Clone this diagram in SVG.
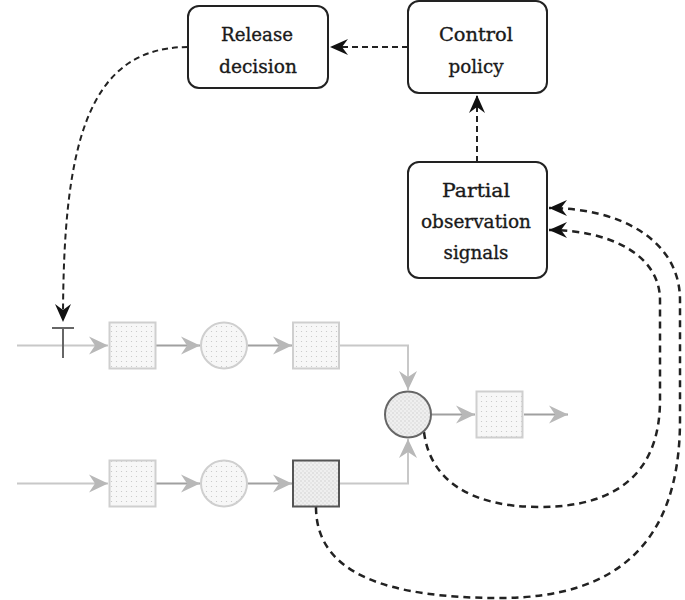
<svg xmlns="http://www.w3.org/2000/svg" width="685" height="600" viewBox="0 0 685 600">
<style>
.box{fill:#fff;stroke:#222;stroke-width:2}
.lbl{font-family:"DejaVu Serif","Liberation Serif",serif;font-size:19px;fill:#1a1a1a;stroke:#1a1a1a;stroke-width:0.35;text-anchor:middle}
.dash{fill:none;stroke:#222;stroke-width:2;stroke-dasharray:6 4}
.dashb{fill:none;stroke:#222;stroke-width:2.5;stroke-dasharray:7 5}
.gl{fill:none;stroke:#c8c8c8;stroke-width:2}
.gd{fill:none;stroke:#a0a0a0;stroke-width:2}
.sq{fill:url(#dots);stroke:#cfcfcf;stroke-width:2}
</style>
<defs>
<pattern id="dots" width="5" height="5" patternUnits="userSpaceOnUse">
<rect width="5" height="5" fill="#f7f7f7"/>
<circle cx="1.5" cy="1.5" r="0.6" fill="#c4c4c4"/>
</pattern>
<pattern id="dots2" width="4" height="4" patternUnits="userSpaceOnUse">
<rect width="4" height="4" fill="#efefef"/>
<circle cx="1" cy="1" r="0.7" fill="#c8c8c8"/>
<circle cx="3" cy="3" r="0.7" fill="#d4d4d4"/>
</pattern>
<marker id="ab" viewBox="-20 -10 21 20" refX="0" refY="0" markerWidth="21" markerHeight="20" markerUnits="userSpaceOnUse" orient="auto">
<path d="M0,0 L-18,-8 L-12,0 L-18,8 z" fill="#111"/>
</marker>
<marker id="ag" viewBox="-21 -10 22 20" refX="0" refY="0" markerWidth="22" markerHeight="20" markerUnits="userSpaceOnUse" orient="auto">
<path d="M0,0 L-19,-9 L-13,0 L-19,9 z" fill="#b8b8b8"/>
</marker>
</defs>

<g id="connectors">
<path class="dash" d="M408,47 L330,47" marker-end="url(#ab)"/>
<path class="dash" d="M477,162 L477,95" marker-end="url(#ab)"/>
<path class="dash" d="M188,47 C85,47 63,150 63,322" marker-end="url(#ab)"/>
<path class="dashb" d="M424,432 C430,480 470,507 540,507 C620,507 660,470 660,400 L660,300 C660,255 610,230 549,230" marker-end="url(#ab)"/>
<path class="dashb" d="M316,507 C316,575 390,598 500,598 C620,598 680,540 680,420 L680,300 C680,240 620,208 549,208" marker-end="url(#ab)"/>
<path class="gl" d="M17,345.5 L108,345.5" marker-end="url(#ag)"/>
<path class="gd" d="M156,345.5 L200,345.5" marker-end="url(#ag)"/>
<path class="gd" d="M248,345.5 L292,345.5" marker-end="url(#ag)"/>
<path class="gl" d="M340,345.5 L408,345.5 L408,390" marker-end="url(#ag)"/>
<path class="gl" d="M17,483.5 L108,483.5" marker-end="url(#ag)"/>
<path class="gd" d="M156,483.5 L200,483.5" marker-end="url(#ag)"/>
<path class="gd" d="M248,483.5 L292,483.5" marker-end="url(#ag)"/>
<path class="gl" d="M340,483.5 L408,483.5 L408,439" marker-end="url(#ag)"/>
<path class="gd" d="M432,414.5 L475,414.5" marker-end="url(#ag)"/>
<path class="gd" d="M524,414.5 L568,414.5" marker-end="url(#ag)"/>
</g>

<g id="gate">
<line x1="52" y1="328" x2="74" y2="328" stroke="#666" stroke-width="2"/>
<line x1="63" y1="328" x2="63" y2="358" stroke="#666" stroke-width="2"/>
</g>

<g id="release">
<rect class="box" x="188" y="6" width="140" height="82" rx="11"/>
<text class="lbl" x="257" y="41" textLength="72" lengthAdjust="spacingAndGlyphs">Release</text>
<text class="lbl" x="258" y="72.5" textLength="78" lengthAdjust="spacingAndGlyphs">decision</text>
</g>
<g id="control">
<rect class="box" x="408" y="1" width="139" height="92" rx="11"/>
<text class="lbl" x="476" y="41" textLength="74" lengthAdjust="spacingAndGlyphs">Control</text>
<text class="lbl" x="476" y="73" textLength="55" lengthAdjust="spacingAndGlyphs">policy</text>
</g>
<g id="partial">
<rect class="box" x="408" y="162" width="139" height="116" rx="11"/>
<text class="lbl" x="476" y="197" textLength="68" lengthAdjust="spacingAndGlyphs">Partial</text>
<text class="lbl" x="476" y="228" textLength="110" lengthAdjust="spacingAndGlyphs">observation</text>
<text class="lbl" x="476" y="259" textLength="65" lengthAdjust="spacingAndGlyphs">signals</text>
</g>

<g id="top-q1"><rect class="sq" x="109.5" y="322.5" width="46" height="46"/></g>
<g id="top-s1"><circle class="sq" cx="224" cy="345.5" r="23"/></g>
<g id="top-q2"><rect class="sq" x="293" y="322.5" width="46" height="46"/></g>
<g id="bot-q1"><rect class="sq" x="109.5" y="460.5" width="46" height="46"/></g>
<g id="bot-s1"><circle class="sq" cx="224" cy="483.5" r="23"/></g>
<g id="bot-q2"><rect x="293" y="460.5" width="46" height="46" fill="url(#dots2)" stroke="#555" stroke-width="2"/></g>
<g id="merge"><circle cx="408" cy="414.5" r="23" fill="url(#dots2)" stroke="#666" stroke-width="2"/></g>
<g id="out-q"><rect class="sq" x="476.5" y="391.5" width="46" height="46"/></g>
</svg>
